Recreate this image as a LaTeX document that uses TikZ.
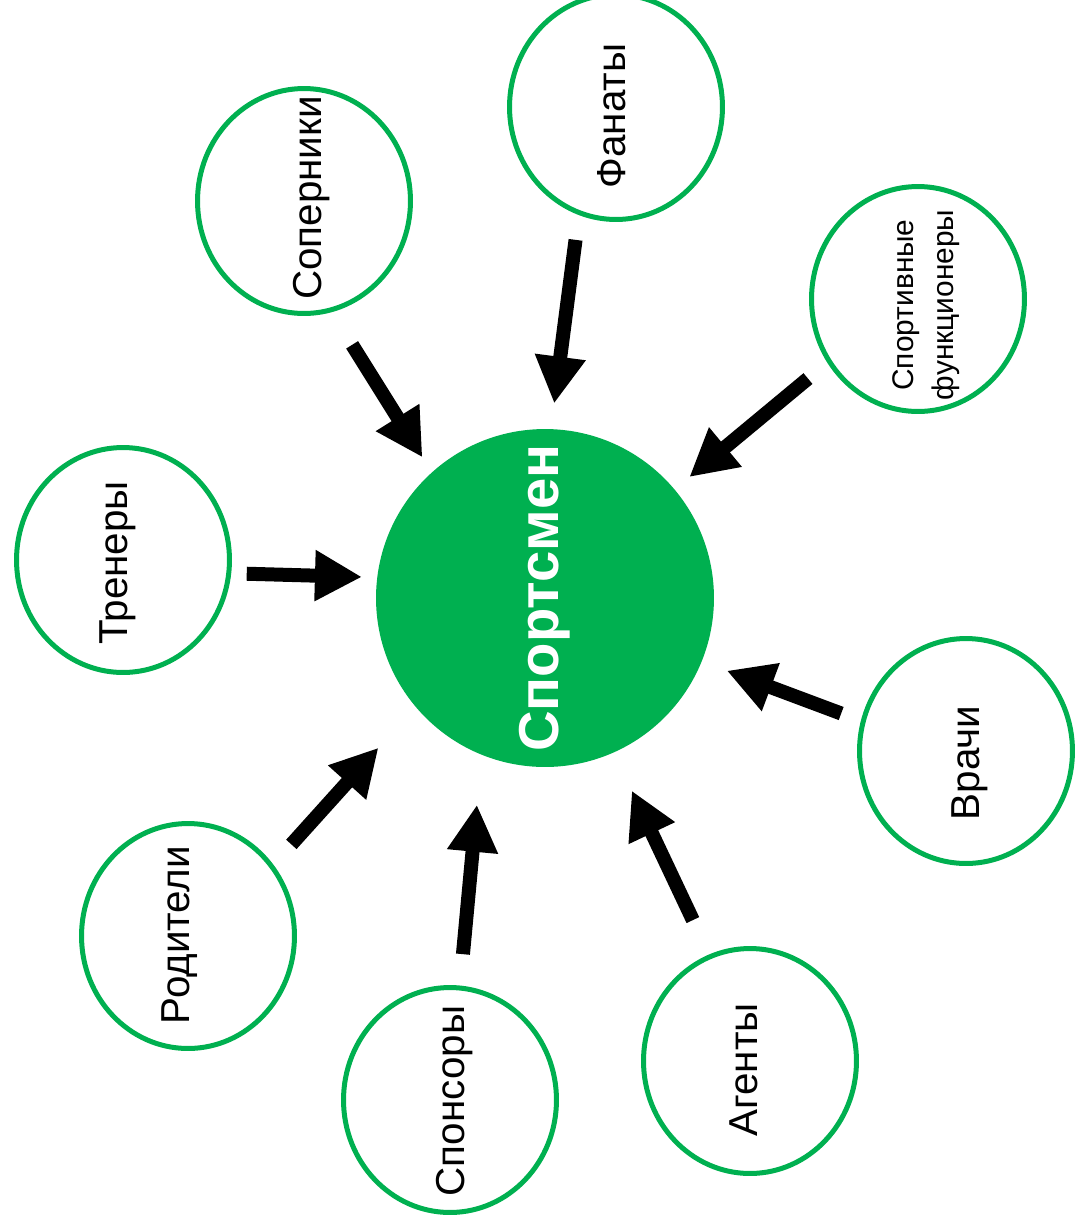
\documentclass[tikz,border=0pt]{standalone}
\usepackage{fontspec}
\setmainfont{Liberation Sans}
\usetikzlibrary{shapes.geometric,arrows.meta}
\definecolor{vert}{RGB}{0,176,80}

\begin{document}
\begin{tikzpicture}[x=0.02cm, y=-0.02cm]
			\tikzset{noeud/.style={ellipse, draw=vert, line width=0.1cm, minimum width=4.26cm, minimum height=4.5cm, inner sep=0pt}, texte/.style={rotate=90, inner sep=0pt, font=\fontsize{23}{27}\selectfont}, central/.style={circle, fill=vert, minimum size=6.76cm, inner sep=0pt, text=white, font=\fontsize{32}{38}\selectfont\bfseries}, fleche/.style={-{Triangle[length=0.94cm, width=0.96cm]}, line width=0.28cm}};

			\useasboundingbox (0,0) rectangle (1076,1232);

			\node[central] (sport) at ( 545,  598) {\rotatebox{90}{Спортсмен}};

			\node[noeud] (sop)  at ( 304,  201) {};
			\node[noeud] (fan)  at ( 616,  107) {};
			\node[noeud] (fonc) at ( 918,  299) {};
			\node[noeud] (entr) at ( 123,  560) {};
			\node[noeud] (med)  at ( 966,  751) {};
			\node[noeud] (par)  at ( 188,  936) {};
			\node[noeud] (spon) at ( 450, 1100) {};
			\node[noeud] (agt)  at ( 750, 1061) {};

			\node[texte] (tsop)  at ( 312,  198) {Соперники};
			\node[texte] (tfan)  at ( 612,  116) {Фанаты};
			\node[texte, align=center, font=\fontsize{17}{22.7}\selectfont] (tfonc) at ( 926,  305) {Спортивные\\функционеры};
			\node[texte] (tentr) at ( 118,  563) {Тренеры};
			\node[texte] (tmed)  at ( 970,  763) {Врачи};
			\node[texte] (tpar)  at ( 180,  935) {Родители};
			\node[texte] (tspon) at ( 455, 1101) {Спонсоры};
			\node[texte] (tagt)  at ( 744, 1070) {Агенты};

			\draw[fleche, shorten <=0.77cm, shorten >=0.35cm] (sop.284.4) -- (sport.132.3);
			\draw[fleche, shorten <=0.50cm, shorten >=0.51cm] (fan.251.1) -- (sport.88.8);
			\draw[fleche, shorten <=0.50cm, shorten >=0.38cm] (fonc.215.6) -- (sport.40.65);
			\draw[fleche, shorten <=0.31cm, shorten >=0.30cm] (entr.353.9) -- (sport.173.1);
			\draw[fleche, shorten <=0.42cm, shorten >=0.53cm] (med.164.1) -- (sport.338.7);
			\draw[fleche, shorten <=0.54cm, shorten >=1.10cm] (par.40) -- (sport.220.9);
			\draw[fleche, shorten <=0.63cm, shorten >=1.00cm] (spon.85) -- (sport.248.4);
			\draw[fleche, shorten <=0.76cm, shorten >=0.84cm] (agt.111.6) -- (sport.294.7);

		\end{tikzpicture}
\end{document}
